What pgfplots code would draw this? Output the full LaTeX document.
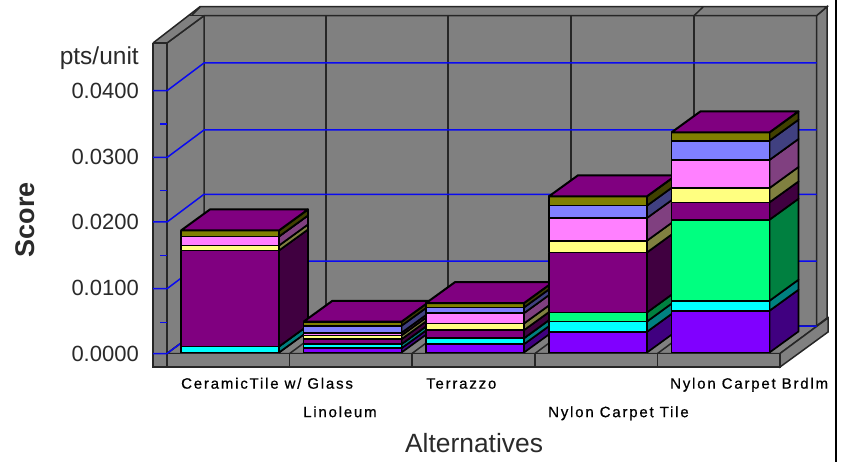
\documentclass[border=0pt]{standalone}
\usepackage{pgfplots}
\pgfplotsset{compat=1.18}
\usepackage{fontspec}
\setmainfont{Liberation Sans}
\newfontfamily\catfont[LetterSpace=12,FakeBold=0.6]{Liberation Sans}
\definecolor{wallgray}{HTML}{808080}
\definecolor{gridblue}{HTML}{0A0AF0}
\definecolor{txt}{HTML}{2A2A2A}
\definecolor{sA}{HTML}{8000FF}\definecolor{sAside}{HTML}{400080}
\definecolor{sB}{HTML}{00FFFF}\definecolor{sBside}{HTML}{008080}
\definecolor{sC}{HTML}{00FF80}\definecolor{sCside}{HTML}{008040}
\definecolor{sD}{HTML}{800080}\definecolor{sDside}{HTML}{400040}
\definecolor{sE}{HTML}{FFFF80}\definecolor{sEside}{HTML}{808040}
\definecolor{sF}{HTML}{FF80FF}\definecolor{sFside}{HTML}{804080}
\definecolor{sG}{HTML}{8080FF}\definecolor{sGside}{HTML}{404080}
\definecolor{sH}{HTML}{808000}\definecolor{sHside}{HTML}{404000}
\newcommand\wall[1]{\addplot[fill=wallgray,draw=black!85,line width=1.5pt,forget plot] coordinates {#1};}
\newcommand\edge[1]{\addplot[draw=black!85,line width=1.5pt,forget plot] coordinates {#1};}
\newcommand\gline[1]{\addplot[draw=gridblue,line width=1.5pt,forget plot] coordinates {#1};}
\def\bw{98}\def\dx{29}\def\dy{0.0032}
\newcommand\startbar{\gdef\cum{0.00015}}
\newcommand\seg[3]{%
  \pgfmathsetmacro\xa{#1}\pgfmathsetmacro\xb{#1+\bw}\pgfmathsetmacro\xc{#1+\bw+\dx}%
  \pgfmathsetmacro\ya{\cum}\pgfmathsetmacro\yb{\cum+#2}%
  \pgfmathsetmacro\yc{\cum+\dy}\pgfmathsetmacro\yd{\cum+#2+\dy}%
  \edef\tmp{\noexpand\addplot[fill=#3side,draw=black,line width=1.7pt,line join=round,forget plot] coordinates {(\xb,\ya)(\xc,\yc)(\xc,\yd)(\xb,\yb)(\xb,\ya)};%
  \noexpand\addplot[fill=#3,draw=black,line width=1.7pt,line join=round,forget plot] coordinates {(\xa,\ya)(\xb,\ya)(\xb,\yb)(\xa,\yb)(\xa,\ya)};}\tmp
  \xdef\cum{\yb}}
\newcommand\topface[1]{%
  \pgfmathsetmacro\xa{#1}\pgfmathsetmacro\xb{#1+\bw}\pgfmathsetmacro\xc{#1+\bw+\dx}\pgfmathsetmacro\xd{#1+\dx}%
  \pgfmathsetmacro\yc{\cum+\dy}%
  \edef\tmp{\noexpand\addplot[fill=sD,draw=black,line width=2pt,line join=round,forget plot] coordinates {(\xa,\cum)(\xb,\cum)(\xc,\yc)(\xd,\yc)(\xa,\cum)};}\tmp}
\newcommand\stackbar[9]{\startbar
  \seg{#1}{#2}{sA}\seg{#1}{#3}{sB}\seg{#1}{#4}{sC}\seg{#1}{#5}{sD}%
  \seg{#1}{#6}{sE}\seg{#1}{#7}{sF}\seg{#1}{#8}{sG}\seg{#1}{#9}{sH}\topface{#1}}
\begin{document}
\begin{tikzpicture}[x=1pt,y=1pt]
% background in image pixels
\begin{axis}[at={(0pt,0pt)},anchor=south west,scale only axis,width=842pt,height=462pt,
  xmin=0,xmax=842,ymin=0,ymax=462,y dir=reverse,axis lines=none,clip=false]
\wall{(204,15.7)(816.5,15.7)(816.5,326)(204,326)(204,15.7)}
\wall{(167,43)(204,15.7)(204,326)(167,353.5)(167,43)}
\wall{(816.5,15.7)(827,6.7)(827,318)(816.5,326)(816.5,15.7)}
\wall{(153,43)(200,6.7)(827,6.7)(816.5,15.7)(204,15.7)(167,43)(153,43)}
\edge{(190,15.7)(204,15.7)}
\edge{(192,15)(200,7)}
\edge{(694,15.7)(703,7)}
\wall{(167,353.5)(204,326)(816.5,326)(828,318)(780,353.5)(167,353.5)}
\wall{(780,353.5)(828,318)(828,332)(780,367)(780,353.5)}
\wall{(153,353.5)(780,353.5)(780,367)(153,367)(153,353.5)}
\wall{(153,43)(167,43)(167,367)(153,367)(153,43)}
\edge{(289.7,353.5)(289.7,367)}\edge{(412,353.5)(412,367)}\edge{(535,353.5)(535,367)}\edge{(657.5,353.5)(657.5,367)}
\edge{(289.7,353.5)(326.7,326)}\edge{(412,353.5)(449,326)}\edge{(535,353.5)(572,326)}\edge{(657.5,353.5)(694.5,326)}
\edge{(326,15.7)(326,326)}\edge{(448,15.7)(448,326)}\edge{(571,15.7)(571,326)}\edge{(694,15.7)(694,326)}
\gline{(153,353.5)(167,353.5)(204,326)(816.5,326)}
\gline{(153,288.7)(167,288.7)(204,261)(816.5,261)}
\gline{(153,222)(167,222)(204,194.3)(816.5,194.3)}
\gline{(153,157.5)(167,157.5)(204,130)(816.5,130)}
\gline{(153,90.7)(167,90.7)(204,63)(816.5,63)}
\gline{(160,322.3)(167,322.3)}\gline{(160,255.7)(167,255.7)}\gline{(160,190.7)(167,190.7)}\gline{(160,124)(167,124)}
\addplot[draw=black,line width=2.4pt,forget plot] coordinates {(836,0)(836,462)};
\end{axis}
% data
\begin{axis}[at={(153pt,95pt)},anchor=south west,scale only axis,width=627pt,height=324pt,
  xmin=153,xmax=780,ymin=-0.002058,ymax=0.04733,clip=false,
  scaled y ticks=false,
  axis line style={draw=none},tick style={draw=none},
  ytick={0,0.01,0.02,0.03,0.04},
  yticklabels={0.0000,0.0100,0.0200,0.0300,0.0400},
  y tick label style={font=\fontsize{22}{24}\selectfont,text=txt,inner sep=0pt,anchor=east,xshift=-14pt},
  ylabel={\textbf{Score}},
  every axis y label/.style={at={(axis description cs:-0.204,0.4537)},rotate=90,anchor=center,font=\fontsize{27}{29}\selectfont,text=txt},
  xlabel={Alternatives},
  every axis x label/.style={at={(axis description cs:0.512,-0.2654)},anchor=base,font=\fontsize{26.4}{28}\selectfont,text=txt},
  xtick={181,303,426,548,670},
  xticklabels={{\strut CeramicTile w/ Glass},{\strut\\\strut Linoleum},{\strut Terrazzo},{\strut\\\strut Nylon Carpet Tile},{\strut Nylon Carpet Brdlm}},
  x tick label style={font=\catfont\fontsize{15}{28.5}\selectfont,text=black,inner sep=0pt,anchor=north west,align=left,yshift=-1.5pt},
  major tick length=0pt]
\stackbar{181}{0}{0.00091}{0}{0.01463}{0.00076}{0.00137}{0}{0.00091}
\stackbar{303.5}{0.00066}{0.00061}{0}{0.00076}{0.00056}{0.00041}{0.00107}{0.00061}
\stackbar{426}{0.00126}{0.00091}{0}{0.00122}{0.00102}{0.00157}{0.00087}{0.00066}
\stackbar{549}{0.00316}{0.00157}{0.00137}{0.00915}{0.00178}{0.00346}{0.00188}{0.00142}
\stackbar{671.5}{0.00636}{0.00152}{0.01235}{0.00264}{0.00220}{0.00427}{0.00294}{0.00127}
\node[anchor=base east,inner sep=0pt,font=\fontsize{24.5}{26}\selectfont,text=txt] at (axis cs:139,0.04398) {pts/unit};
\end{axis}
\pgfresetboundingbox
\path[use as bounding box] (0,0) rectangle (842,462);
\end{tikzpicture}
\end{document}
